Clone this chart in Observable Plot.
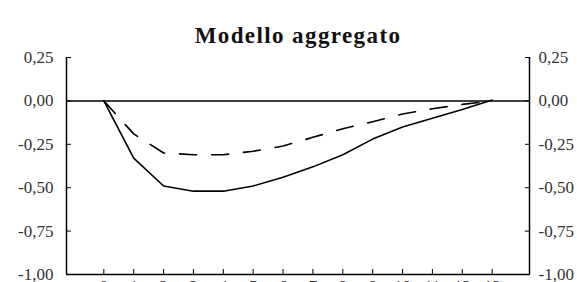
<!DOCTYPE html>
<html>
<head>
<meta charset="utf-8">
<script src="https://cdn.jsdelivr.net/npm/d3@7"></script>
<script src="https://cdn.jsdelivr.net/npm/@observablehq/plot@0.6"></script>
<style>
  html, body { margin: 0; padding: 0; background: #fff; overflow: hidden; }
  #chart svg, #chart svg text { font-family: "Liberation Serif", "Times New Roman", Times, serif !important; }
  #chart svg g[aria-label="text"] text { letter-spacing: 1.4px; }
</style>
</head>
<body>
<div id="chart"></div>
<script>
const title = "Modello aggregato";
const periods = [0, 1, 2, 3, 4, 5, 6, 7, 8, 9, 10, 11, 12, 13];
const solidSeries = [0, -0.33, -0.49, -0.52, -0.52, -0.49, -0.44, -0.38, -0.31, -0.22, -0.15, -0.10, -0.05, 0.005];
const dashedSeries = [0, -0.19, -0.30, -0.31, -0.31, -0.29, -0.26, -0.21, -0.16, -0.12, -0.075, -0.045, -0.02, 0];
const yTicks = [0.25, 0, -0.25, -0.5, -0.75, -1];
const xDomain = [-1.25, 14.25];
const yDomain = [-1, 0.25];

const solid = periods.map((p, i) => ({x: p, y: solidSeries[i]}));
const dashed = periods.map((p, i) => ({x: p, y: dashedSeries[i]}));
const fmt = d => d.toFixed(2).replace(".", ",");
const serif = "'Liberation Serif', 'Times New Roman', Times, serif";

const chart = Plot.plot({
  width: 577,
  height: 300,
  marginLeft: 66,
  marginRight: 48,
  marginTop: 57,
  marginBottom: 26,
  style: {fontFamily: serif, fontSize: "17px", color: "#000", background: "#fff"},
  x: {domain: xDomain, axis: null},
  y: {domain: yDomain, axis: null},
  marks: [
    Plot.axisY(yTicks, {anchor: "left", label: null, tickSize: -5, tickPadding: 18, tickFormat: fmt, fontSize: 17, fontFamily: serif, fill: "#333", stroke: "#000"}),
    Plot.axisY(yTicks, {anchor: "right", label: null, tickSize: -5, tickPadding: 14, tickFormat: fmt, fontSize: 17, fontFamily: serif, fill: "#333", stroke: "#000"}),
    Plot.axisX(periods, {anchor: "bottom", label: null, tickSize: -5, tickPadding: 10, tickFormat: d => String(d), fontSize: 17, fontFamily: serif, fill: "#333", stroke: "#000"}),
    Plot.ruleX(xDomain, {y1: yDomain[0], y2: yDomain[1], stroke: "#000", strokeWidth: 1.5}),
    Plot.ruleY([yDomain[0]], {stroke: "#000", strokeWidth: 1.5}),
    Plot.ruleY([0], {stroke: "#000", strokeWidth: 1.5}),
    Plot.line(dashed, {x: "x", y: "y", stroke: "#000", strokeWidth: 1.6, strokeDasharray: "17,15"}),
    Plot.line(solid, {x: "x", y: "y", stroke: "#000", strokeWidth: 1.6}),
    Plot.text([title], {frameAnchor: "top", dy: -15, lineAnchor: "bottom", text: d => d, fontSize: 23, fontWeight: "bold", fontFamily: serif, fill: "#111"})
  ]
});
document.getElementById("chart").appendChild(chart);
</script>
</body>
</html>
